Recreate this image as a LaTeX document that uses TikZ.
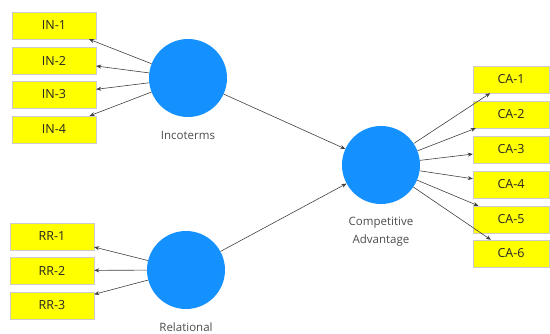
\documentclass[tikz,border=0pt]{standalone}
\usepackage{fontspec}
\setmainfont{Open Sans}
\usetikzlibrary{arrows.meta}
\definecolor{latblue}{RGB}{20,144,255}
\definecolor{indyellow}{RGB}{255,255,0}
\tikzset{
 ind/.style={draw=black!20, fill=indyellow, text=black!85, minimum width=84pt, minimum height=27pt, inner sep=0pt, font=\fontsize{12.5}{14}\selectfont},
 cabox/.style={ind, minimum width=76pt},
 lat/.style={circle, fill=latblue, minimum size=78pt, inner sep=0pt},
 lbl/.style={text=black!70, font=\fontsize{11.5}{18}\selectfont, align=center},
 load/.style={-{Stealth[length=5pt,width=4pt]}, draw=black!75, line width=0.6pt}
}

\begin{document}
\begin{tikzpicture}[x=1pt,y=-1pt]
 \useasboundingbox (0,0) rectangle (550,333);

 % latent variables
 \node[lat] (inc) at (188,78) {};
 \node[lat] (rel) at (186,270) {};
 \node[lat] (comp) at (381,165) {};
 \node[lbl] (incl) at (188,135) {Incoterms};
 \node[lbl] (rell) at (186,327) {Relational};
 \node[lbl] (compl) at (381,232) {Competitive\\Advantage};

 % indicators
 \node[ind] (in1) at (54,25.5) {IN-1};
 \node[ind] (in2) at (54,60.5) {IN-2};
 \node[ind] (in3) at (54,94.5) {IN-3};
 \node[ind] (in4) at (54,129.5) {IN-4};

 \node[ind] (rr1) at (52,236.5) {RR-1};
 \node[ind] (rr2) at (52,270.5) {RR-2};
 \node[ind] (rr3) at (52,305.5) {RR-3};

 \node[cabox] (ca1) at (511,79.5) {CA-1};
 \node[cabox] (ca2) at (511,114.5) {CA-2};
 \node[cabox] (ca3) at (511,149.5) {CA-3};
 \node[cabox] (ca4) at (511,184.5) {CA-4};
 \node[cabox] (ca5) at (511,219.5) {CA-5};
 \node[cabox] (ca6) at (511,253.5) {CA-6};

 \foreach \i in {1,...,4} \draw[load] (inc) -- (in\i);
 \foreach \i in {1,...,3} \draw[load] (rel) -- (rr\i);
 \foreach \i in {1,...,6} \draw[load] (comp) -- (ca\i);

 \draw[load] (inc) -- (comp);
 \draw[load] (rel) -- (comp);
\end{tikzpicture}
\end{document}
